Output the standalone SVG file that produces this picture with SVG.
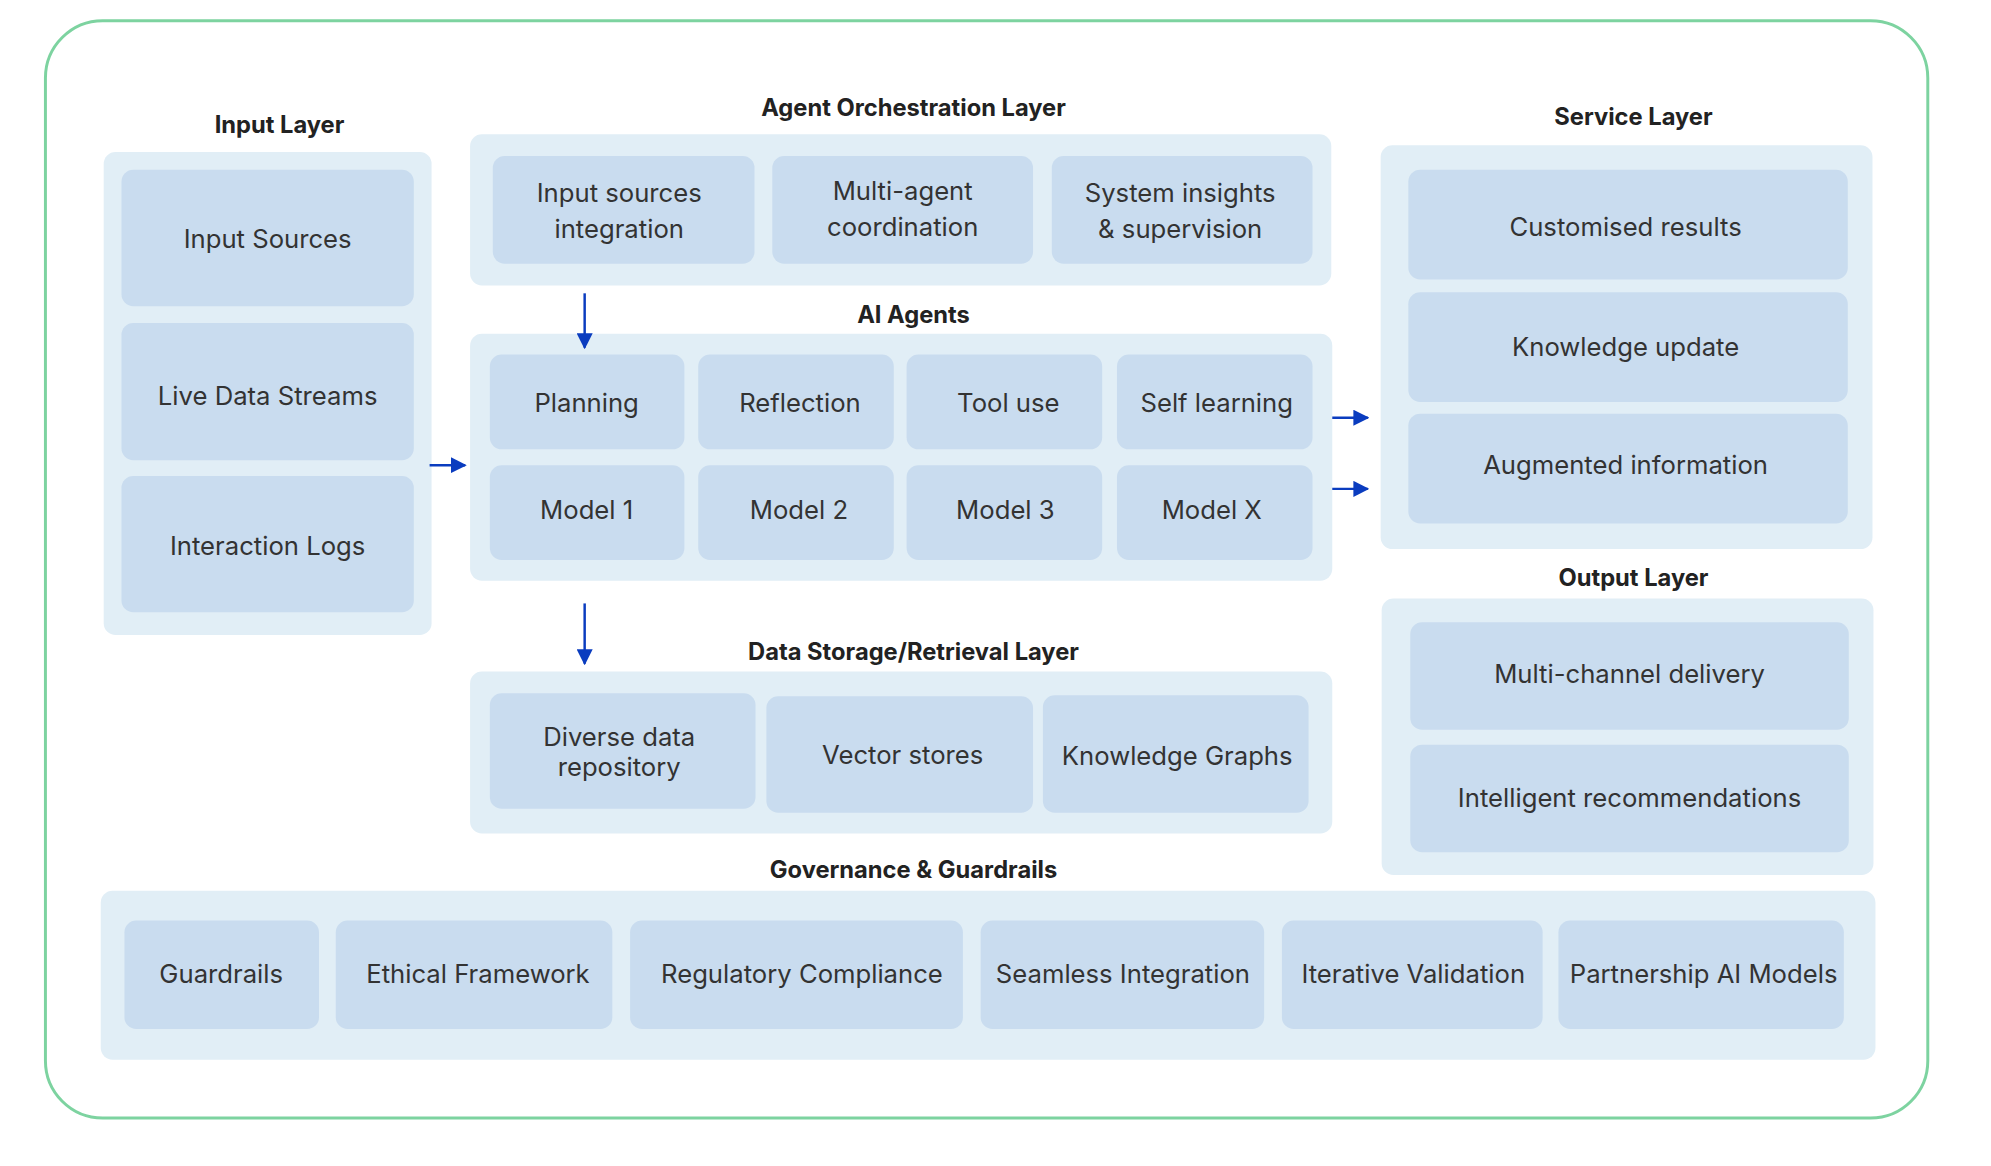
<svg xmlns="http://www.w3.org/2000/svg" width="1991" height="1166" viewBox="0 0 1991 1166">
<style>
.pn{fill:#e1eef6}
.bx{fill:#c9dcef}
.t{font-family:Inter,"Open Sans",sans-serif;font-size:26px;fill:#333;text-anchor:middle;dominant-baseline:central}
.h{font-family:Inter,"Open Sans",sans-serif;font-size:24px;font-weight:bold;fill:#222;text-anchor:middle;dominant-baseline:central}
.c{stroke:#0a3cbf;stroke-width:2.5;fill:none}
</style>
<defs><marker id="a" viewBox="0 0 10 10" refX="9" refY="5" markerWidth="6.5" markerHeight="6.5" orient="auto"><path d="M0,0L10,5L0,10z" fill="#0a3cbf"/></marker></defs>
<g transform="scale(0.9876)">
<rect x="46" y="21" width="1906" height="1111" rx="58" fill="#fff" stroke="#7dd3a0" stroke-width="3"/>
<g id="input-layer">
<text class="h" x="283" y="126">Input Layer</text>
<rect class="pn" x="105" y="154" width="332" height="489" rx="12"/>
<g id="input-sources"><rect class="bx" x="123" y="172" width="296" height="138" rx="12"/><text class="t" x="271" y="241">Input Sources</text></g>
<g id="live-data"><rect class="bx" x="123" y="327" width="296" height="139" rx="12"/><text class="t" x="271" y="400">Live Data Streams</text></g>
<g id="interaction-logs"><rect class="bx" x="123" y="482" width="296" height="138" rx="12"/><text class="t" x="271" y="552">Interaction Logs</text></g>
</g>
<g id="orchestration">
<text class="h" x="925" y="109">Agent Orchestration Layer</text>
<rect class="pn" x="476" y="136" width="872" height="153" rx="12"/>
<g id="o1"><rect class="bx" x="499" y="158" width="265" height="109" rx="12"/><text class="t" x="627" y="195">Input sources</text><text class="t" x="627" y="231">integration</text></g>
<g id="o2"><rect class="bx" x="782" y="158" width="264" height="109" rx="12"/><text class="t" x="914" y="193">Multi-agent</text><text class="t" x="914" y="229">coordination</text></g>
<g id="o3"><rect class="bx" x="1065" y="158" width="264" height="109" rx="12"/><text class="t" x="1195" y="195">System insights</text><text class="t" x="1195" y="231">&amp; supervision</text></g>
</g>
<g id="ai-agents">
<text class="h" x="925" y="318">AI Agents</text>
<rect class="pn" x="476" y="338" width="873" height="250" rx="12"/>
<g id="planning"><rect class="bx" x="496" y="359" width="197" height="96" rx="12"/><text class="t" x="594" y="408">Planning</text></g>
<g id="reflection"><rect class="bx" x="707" y="359" width="198" height="96" rx="12"/><text class="t" x="810" y="408">Reflection</text></g>
<g id="tool-use"><rect class="bx" x="918" y="359" width="198" height="96" rx="12"/><text class="t" x="1021" y="408">Tool use</text></g>
<g id="self-learning"><rect class="bx" x="1131" y="359" width="198" height="96" rx="12"/><text class="t" x="1232" y="408">Self learning</text></g>
<g id="model1"><rect class="bx" x="496" y="471" width="197" height="96" rx="12"/><text class="t" x="594" y="516">Model 1</text></g>
<g id="model2"><rect class="bx" x="707" y="471" width="198" height="96" rx="12"/><text class="t" x="809" y="516">Model 2</text></g>
<g id="model3"><rect class="bx" x="918" y="471" width="198" height="96" rx="12"/><text class="t" x="1018" y="516">Model 3</text></g>
<g id="modelx"><rect class="bx" x="1131" y="471" width="198" height="96" rx="12"/><text class="t" x="1227" y="516">Model X</text></g>
</g>
<g id="data-storage">
<text class="h" x="925" y="660">Data Storage/Retrieval Layer</text>
<rect class="pn" x="476" y="680" width="873" height="164" rx="12"/>
<g id="d1"><rect class="bx" x="496" y="702" width="269" height="117" rx="12"/><text class="t" x="627" y="746">Diverse data</text><text class="t" x="627" y="776">repository</text></g>
<g id="d2"><rect class="bx" x="776" y="705" width="270" height="118" rx="12"/><text class="t" x="914" y="764">Vector stores</text></g>
<g id="d3"><rect class="bx" x="1056" y="704" width="269" height="119" rx="12"/><text class="t" x="1192" y="765">Knowledge Graphs</text></g>
</g>
<g id="service">
<text class="h" x="1654" y="118">Service Layer</text>
<rect class="pn" x="1398" y="147" width="498" height="409" rx="12"/>
<g id="s1"><rect class="bx" x="1426" y="172" width="445" height="111" rx="12"/><text class="t" x="1646" y="229">Customised results</text></g>
<g id="s2"><rect class="bx" x="1426" y="296" width="445" height="111" rx="12"/><text class="t" x="1646" y="351">Knowledge update</text></g>
<g id="s3"><rect class="bx" x="1426" y="419" width="445" height="111" rx="12"/><text class="t" x="1646" y="470">Augmented information</text></g>
</g>
<g id="output">
<text class="h" x="1654" y="585">Output Layer</text>
<rect class="pn" x="1399" y="606" width="498" height="280" rx="12"/>
<g id="out1"><rect class="bx" x="1428" y="630" width="444" height="109" rx="12"/><text class="t" x="1650" y="682">Multi-channel delivery</text></g>
<g id="out2"><rect class="bx" x="1428" y="754" width="444" height="109" rx="12"/><text class="t" x="1650" y="808">Intelligent recommendations</text></g>
</g>
<g id="governance">
<text class="h" x="925" y="880">Governance &amp; Guardrails</text>
<rect class="pn" x="102" y="902" width="1797" height="171" rx="12"/>
<g id="g1"><rect class="bx" x="126" y="932" width="197" height="110" rx="12"/><text class="t" x="224" y="986">Guardrails</text></g>
<g id="g2"><rect class="bx" x="340" y="932" width="280" height="110" rx="12"/><text class="t" x="484" y="986">Ethical Framework</text></g>
<g id="g3"><rect class="bx" x="638" y="932" width="337" height="110" rx="12"/><text class="t" x="812" y="986">Regulatory Compliance</text></g>
<g id="g4"><rect class="bx" x="993" y="932" width="287" height="110" rx="12"/><text class="t" x="1137" y="986">Seamless Integration</text></g>
<g id="g5"><rect class="bx" x="1298" y="932" width="264" height="110" rx="12"/><text class="t" x="1431" y="986">Iterative Validation</text></g>
<g id="g6"><rect class="bx" x="1578" y="932" width="289" height="110" rx="12"/><text class="t" x="1725" y="986">Partnership AI Models</text></g>
</g>
<g id="connectors">
<line class="c" x1="592" y1="297" x2="592" y2="352" marker-end="url(#a)"/>
<line class="c" x1="592" y1="611" x2="592" y2="672" marker-end="url(#a)"/>
<line class="c" x1="435" y1="471" x2="471" y2="471" marker-end="url(#a)"/>
<line class="c" x1="1349" y1="423" x2="1385" y2="423" marker-end="url(#a)"/>
<line class="c" x1="1349" y1="495" x2="1385" y2="495" marker-end="url(#a)"/>
</g>
</g>
</svg>
